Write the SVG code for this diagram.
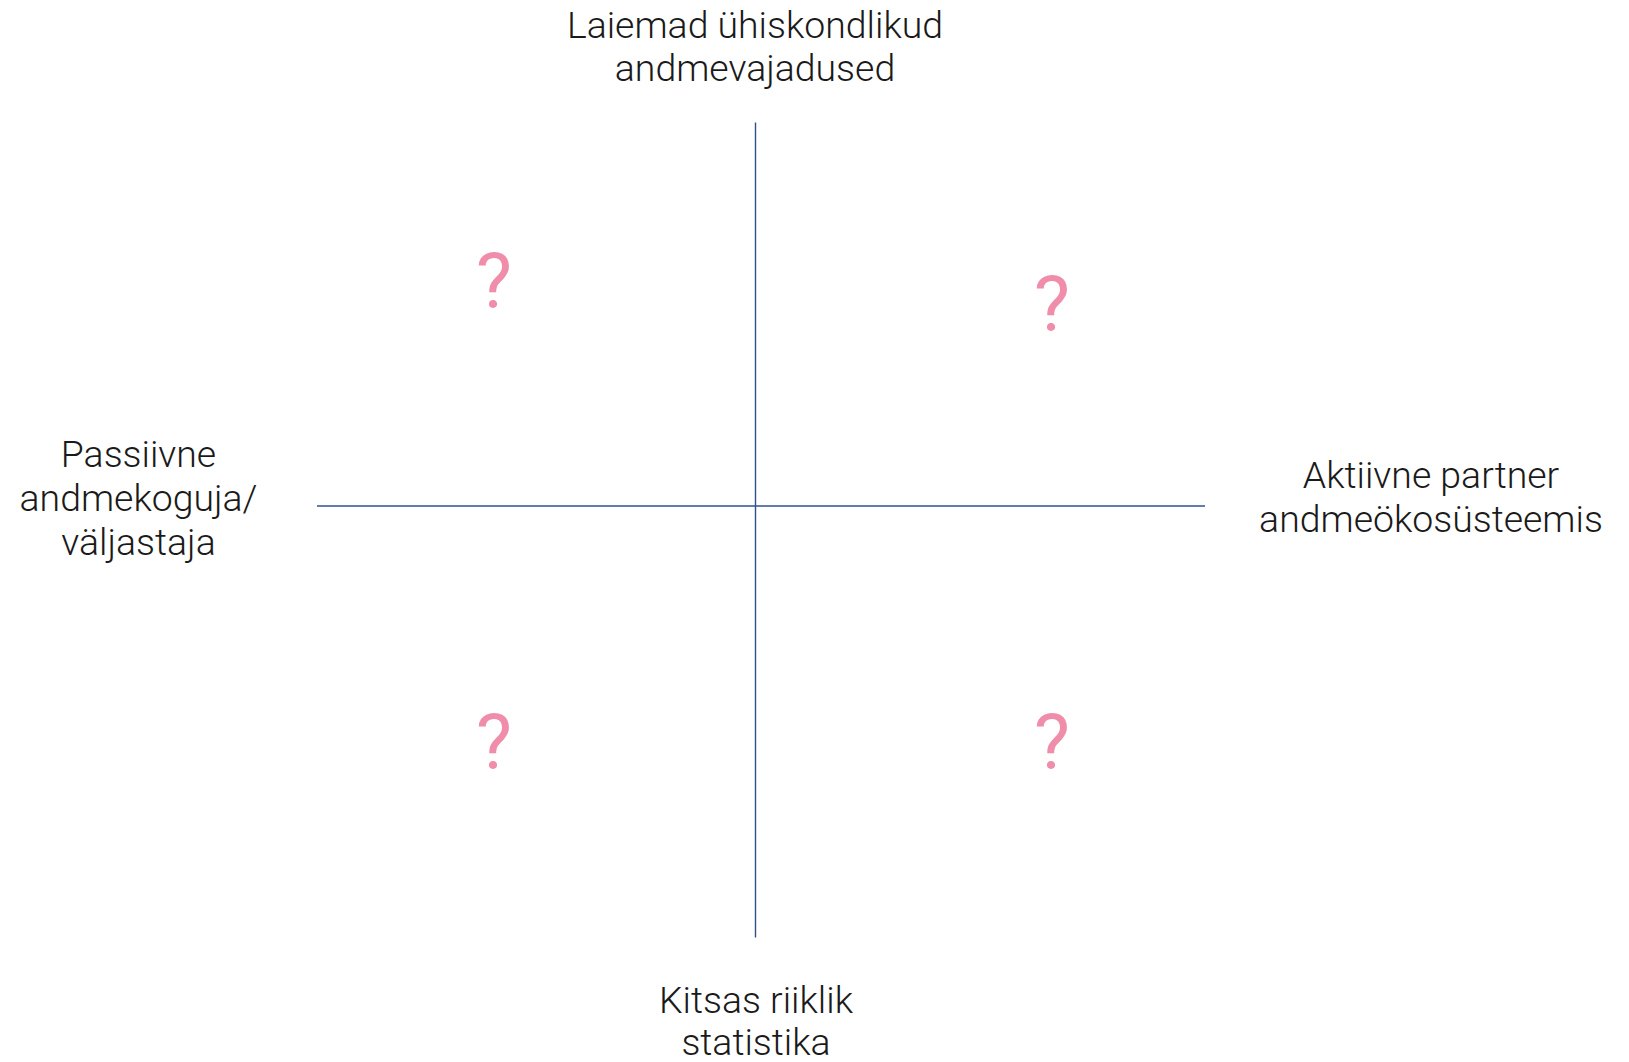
<svg xmlns="http://www.w3.org/2000/svg" width="1629" height="1062" viewBox="0 0 1629 1062">
<style>
.lbl{font-family:Roboto,"Liberation Sans",sans-serif;font-weight:300;font-size:37.4px;fill:#1a1a1a;text-anchor:middle}
.q{font-family:Roboto,"Liberation Sans",sans-serif;font-weight:400;font-size:76px;fill:#f08daa;text-anchor:middle}
.ax{stroke:#2e5288;stroke-width:1.4;fill:none}
</style>
<rect width="1629" height="1062" fill="#ffffff"/>
<g id="connectors">
<line class="ax" x1="755.5" y1="122.5" x2="755.5" y2="937.5"/>
<line class="ax" x1="317" y1="506" x2="1205" y2="506"/>
</g>
<g id="top-label"><text class="lbl" x="755" y="37.5">Laiemad ühiskondlikud<tspan x="755" y="81">andmevajadused</tspan></text></g>
<g id="left-label"><text class="lbl" x="138.5" y="466.5">Passiivne<tspan x="138.5" y="511">andmekoguja/</tspan><tspan x="138.5" y="555">väljastaja</tspan></text></g>
<g id="right-label"><text class="lbl" x="1431" y="488">Aktiivne partner<tspan x="1431" y="532">andmeökosüsteemis</tspan></text></g>
<g id="bottom-label"><text class="lbl" x="756" y="1013">Kitsas riiklik<tspan x="756" y="1055">statistika</tspan></text></g>
<g id="q1"><text class="q" x="494" y="307">?</text></g>
<g id="q2"><text class="q" x="1052" y="330">?</text></g>
<g id="q3"><text class="q" x="494" y="768">?</text></g>
<g id="q4"><text class="q" x="1052" y="768">?</text></g>
</svg>
